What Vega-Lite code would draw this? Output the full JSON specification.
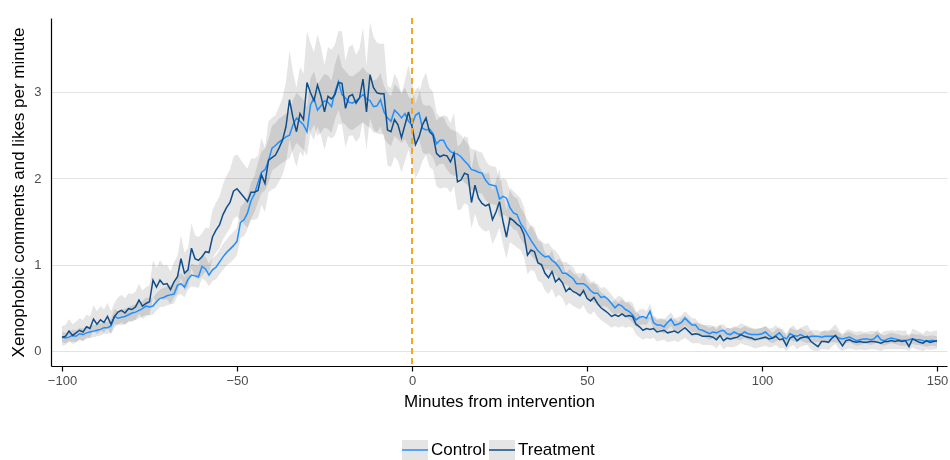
{
  "$schema": "https://vega.github.io/schema/vega-lite/v6.json",
  "width": 896,
  "height": 348,
  "autosize": "none",
  "padding": {"left": 51, "top": 18, "right": 3, "bottom": 94},
  "background": "white",
  "config": {
    "font": "Liberation Sans",
    "view": {"stroke": null},
    "axis": {
      "domainColor": "black",
      "domainWidth": 1.2,
      "tickColor": "black",
      "tickWidth": 1.2,
      "tickSize": 5,
      "labelColor": "#4d4d4d",
      "labelFontSize": 13,
      "titleColor": "black",
      "titleFontSize": 17,
      "titleFontWeight": "normal",
      "gridColor": "#e3e3e3",
      "gridWidth": 1
    },
    "legend": {
      "orient": "none",
      "legendX": 353,
      "legendY": 421,
      "direction": "horizontal",
      "labelFontSize": 17,
      "labelColor": "black",
      "symbolSize": 400,
      "symbolStrokeWidth": 1.5,
      "labelOffset": 5,
      "columnPadding": 0
    }
  },
  "data": {
    "values": [
      {"m":-100,"c":0.16,"cl":0.10,"ch":0.22,"t":0.16,"tl":0.06,"th":0.29},
      {"m":-99,"c":0.15,"cl":0.09,"ch":0.21,"t":0.17,"tl":0.07,"th":0.30},
      {"m":-98,"c":0.16,"cl":0.10,"ch":0.22,"t":0.23,"tl":0.12,"th":0.37},
      {"m":-97,"c":0.18,"cl":0.11,"ch":0.25,"t":0.18,"tl":0.08,"th":0.31},
      {"m":-96,"c":0.17,"cl":0.10,"ch":0.24,"t":0.21,"tl":0.10,"th":0.34},
      {"m":-95,"c":0.20,"cl":0.13,"ch":0.27,"t":0.24,"tl":0.13,"th":0.38},
      {"m":-94,"c":0.19,"cl":0.12,"ch":0.26,"t":0.22,"tl":0.11,"th":0.36},
      {"m":-93,"c":0.21,"cl":0.14,"ch":0.28,"t":0.28,"tl":0.16,"th":0.42},
      {"m":-92,"c":0.22,"cl":0.15,"ch":0.29,"t":0.26,"tl":0.15,"th":0.40},
      {"m":-91,"c":0.23,"cl":0.16,"ch":0.30,"t":0.37,"tl":0.24,"th":0.53},
      {"m":-90,"c":0.24,"cl":0.17,"ch":0.31,"t":0.31,"tl":0.19,"th":0.46},
      {"m":-89,"c":0.25,"cl":0.18,"ch":0.32,"t":0.36,"tl":0.23,"th":0.52},
      {"m":-88,"c":0.27,"cl":0.20,"ch":0.34,"t":0.33,"tl":0.21,"th":0.48},
      {"m":-87,"c":0.27,"cl":0.20,"ch":0.34,"t":0.40,"tl":0.27,"th":0.56},
      {"m":-86,"c":0.29,"cl":0.21,"ch":0.37,"t":0.31,"tl":0.19,"th":0.46},
      {"m":-85,"c":0.40,"cl":0.31,"ch":0.49,"t":0.40,"tl":0.27,"th":0.56},
      {"m":-84,"c":0.38,"cl":0.30,"ch":0.46,"t":0.45,"tl":0.31,"th":0.62},
      {"m":-83,"c":0.39,"cl":0.30,"ch":0.48,"t":0.47,"tl":0.33,"th":0.65},
      {"m":-82,"c":0.40,"cl":0.31,"ch":0.49,"t":0.44,"tl":0.30,"th":0.61},
      {"m":-81,"c":0.42,"cl":0.33,"ch":0.51,"t":0.49,"tl":0.35,"th":0.67},
      {"m":-80,"c":0.44,"cl":0.35,"ch":0.53,"t":0.48,"tl":0.34,"th":0.66},
      {"m":-79,"c":0.45,"cl":0.36,"ch":0.54,"t":0.51,"tl":0.36,"th":0.69},
      {"m":-78,"c":0.47,"cl":0.38,"ch":0.56,"t":0.59,"tl":0.43,"th":0.78},
      {"m":-77,"c":0.49,"cl":0.40,"ch":0.58,"t":0.52,"tl":0.37,"th":0.70},
      {"m":-76,"c":0.52,"cl":0.42,"ch":0.62,"t":0.55,"tl":0.40,"th":0.74},
      {"m":-75,"c":0.51,"cl":0.41,"ch":0.61,"t":0.57,"tl":0.42,"th":0.76},
      {"m":-74,"c":0.52,"cl":0.42,"ch":0.62,"t":0.82,"tl":0.63,"th":1.05},
      {"m":-73,"c":0.57,"cl":0.47,"ch":0.67,"t":0.74,"tl":0.56,"th":0.96},
      {"m":-72,"c":0.61,"cl":0.51,"ch":0.71,"t":0.82,"tl":0.63,"th":1.05},
      {"m":-71,"c":0.62,"cl":0.51,"ch":0.73,"t":0.77,"tl":0.59,"th":0.99},
      {"m":-70,"c":0.64,"cl":0.53,"ch":0.75,"t":0.78,"tl":0.60,"th":1.00},
      {"m":-69,"c":0.65,"cl":0.54,"ch":0.76,"t":0.71,"tl":0.54,"th":0.92},
      {"m":-68,"c":0.66,"cl":0.55,"ch":0.77,"t":0.80,"tl":0.62,"th":1.03},
      {"m":-67,"c":0.76,"cl":0.64,"ch":0.88,"t":0.86,"tl":0.67,"th":1.10},
      {"m":-66,"c":0.78,"cl":0.66,"ch":0.90,"t":1.07,"tl":0.85,"th":1.34},
      {"m":-65,"c":0.74,"cl":0.62,"ch":0.86,"t":0.90,"tl":0.70,"th":1.14},
      {"m":-64,"c":0.83,"cl":0.71,"ch":0.95,"t":0.94,"tl":0.74,"th":1.19},
      {"m":-63,"c":0.88,"cl":0.75,"ch":1.01,"t":1.19,"tl":0.96,"th":1.48},
      {"m":-62,"c":0.87,"cl":0.74,"ch":1.00,"t":1.07,"tl":0.85,"th":1.34},
      {"m":-61,"c":0.86,"cl":0.73,"ch":0.99,"t":1.05,"tl":0.83,"th":1.32},
      {"m":-60,"c":0.98,"cl":0.84,"ch":1.12,"t":1.09,"tl":0.87,"th":1.36},
      {"m":-59,"c":0.95,"cl":0.81,"ch":1.09,"t":1.15,"tl":0.92,"th":1.43},
      {"m":-58,"c":0.88,"cl":0.75,"ch":1.01,"t":1.14,"tl":0.91,"th":1.42},
      {"m":-57,"c":0.94,"cl":0.81,"ch":1.07,"t":1.32,"tl":1.07,"th":1.63},
      {"m":-56,"c":0.97,"cl":0.83,"ch":1.11,"t":1.40,"tl":1.14,"th":1.72},
      {"m":-55,"c":1.03,"cl":0.89,"ch":1.17,"t":1.46,"tl":1.19,"th":1.79},
      {"m":-54,"c":1.09,"cl":0.94,"ch":1.24,"t":1.58,"tl":1.29,"th":1.93},
      {"m":-53,"c":1.14,"cl":0.99,"ch":1.29,"t":1.66,"tl":1.36,"th":2.03},
      {"m":-52,"c":1.18,"cl":1.02,"ch":1.34,"t":1.72,"tl":1.42,"th":2.10},
      {"m":-51,"c":1.22,"cl":1.06,"ch":1.38,"t":1.85,"tl":1.53,"th":2.25},
      {"m":-50,"c":1.27,"cl":1.11,"ch":1.43,"t":1.88,"tl":1.56,"th":2.28},
      {"m":-49,"c":1.49,"cl":1.31,"ch":1.67,"t":1.83,"tl":1.51,"th":2.22},
      {"m":-48,"c":1.52,"cl":1.33,"ch":1.71,"t":1.78,"tl":1.47,"th":2.16},
      {"m":-47,"c":1.60,"cl":1.41,"ch":1.79,"t":1.73,"tl":1.43,"th":2.11},
      {"m":-46,"c":1.74,"cl":1.53,"ch":1.95,"t":1.84,"tl":1.52,"th":2.23},
      {"m":-45,"c":1.82,"cl":1.61,"ch":2.03,"t":1.84,"tl":1.52,"th":2.23},
      {"m":-44,"c":1.95,"cl":1.72,"ch":2.18,"t":1.86,"tl":1.54,"th":2.26},
      {"m":-43,"c":2.07,"cl":1.83,"ch":2.31,"t":2.04,"tl":1.69,"th":2.47},
      {"m":-42,"c":2.10,"cl":1.86,"ch":2.34,"t":1.94,"tl":1.61,"th":2.35},
      {"m":-41,"c":2.20,"cl":1.95,"ch":2.45,"t":2.21,"tl":1.84,"th":2.66},
      {"m":-40,"c":2.35,"cl":2.09,"ch":2.61,"t":2.24,"tl":1.87,"th":2.70},
      {"m":-39,"c":2.38,"cl":2.12,"ch":2.64,"t":2.27,"tl":1.89,"th":2.73},
      {"m":-38,"c":2.42,"cl":2.15,"ch":2.69,"t":2.35,"tl":1.96,"th":2.83},
      {"m":-37,"c":2.45,"cl":2.18,"ch":2.72,"t":2.44,"tl":2.04,"th":2.93},
      {"m":-36,"c":2.48,"cl":2.21,"ch":2.75,"t":2.60,"tl":2.18,"th":3.12},
      {"m":-35,"c":2.50,"cl":2.23,"ch":2.78,"t":2.91,"tl":2.45,"th":3.48},
      {"m":-34,"c":2.62,"cl":2.33,"ch":2.91,"t":2.70,"tl":2.27,"th":3.23},
      {"m":-33,"c":2.70,"cl":2.41,"ch":2.99,"t":2.54,"tl":2.13,"th":3.05},
      {"m":-32,"c":2.66,"cl":2.37,"ch":2.95,"t":2.75,"tl":2.31,"th":3.29},
      {"m":-31,"c":2.62,"cl":2.33,"ch":2.91,"t":2.68,"tl":2.25,"th":3.21},
      {"m":-30,"c":2.54,"cl":2.26,"ch":2.82,"t":3.11,"tl":2.63,"th":3.71},
      {"m":-29,"c":2.85,"cl":2.54,"ch":3.16,"t":2.99,"tl":2.52,"th":3.57},
      {"m":-28,"c":2.93,"cl":2.62,"ch":3.24,"t":2.90,"tl":2.44,"th":3.46},
      {"m":-27,"c":2.79,"cl":2.49,"ch":3.09,"t":3.08,"tl":2.60,"th":3.67},
      {"m":-26,"c":2.84,"cl":2.53,"ch":3.15,"t":2.95,"tl":2.49,"th":3.52},
      {"m":-25,"c":2.90,"cl":2.59,"ch":3.21,"t":2.77,"tl":2.33,"th":3.31},
      {"m":-24,"c":2.88,"cl":2.57,"ch":3.19,"t":2.95,"tl":2.49,"th":3.52},
      {"m":-23,"c":2.83,"cl":2.53,"ch":3.13,"t":2.92,"tl":2.46,"th":3.49},
      {"m":-22,"c":3.00,"cl":2.68,"ch":3.32,"t":2.97,"tl":2.50,"th":3.55},
      {"m":-21,"c":3.12,"cl":2.79,"ch":3.45,"t":3.11,"tl":2.63,"th":3.71},
      {"m":-20,"c":2.97,"cl":2.65,"ch":3.29,"t":3.10,"tl":2.62,"th":3.70},
      {"m":-19,"c":2.93,"cl":2.62,"ch":3.24,"t":2.81,"tl":2.36,"th":3.36},
      {"m":-18,"c":2.88,"cl":2.57,"ch":3.19,"t":2.95,"tl":2.49,"th":3.52},
      {"m":-17,"c":2.87,"cl":2.56,"ch":3.18,"t":2.97,"tl":2.50,"th":3.55},
      {"m":-16,"c":2.90,"cl":2.59,"ch":3.21,"t":2.87,"tl":2.42,"th":3.43},
      {"m":-15,"c":2.93,"cl":2.62,"ch":3.24,"t":2.93,"tl":2.47,"th":3.50},
      {"m":-14,"c":2.97,"cl":2.65,"ch":3.29,"t":3.15,"tl":2.66,"th":3.75},
      {"m":-13,"c":2.92,"cl":2.61,"ch":3.23,"t":2.77,"tl":2.33,"th":3.31},
      {"m":-12,"c":2.90,"cl":2.59,"ch":3.21,"t":3.20,"tl":2.70,"th":3.81},
      {"m":-11,"c":2.83,"cl":2.53,"ch":3.13,"t":3.05,"tl":2.57,"th":3.64},
      {"m":-10,"c":2.84,"cl":2.53,"ch":3.15,"t":2.99,"tl":2.52,"th":3.57},
      {"m":-9,"c":2.91,"cl":2.60,"ch":3.22,"t":2.98,"tl":2.51,"th":3.56},
      {"m":-8,"c":2.77,"cl":2.47,"ch":3.07,"t":2.98,"tl":2.51,"th":3.56},
      {"m":-7,"c":2.70,"cl":2.41,"ch":2.99,"t":2.56,"tl":2.15,"th":3.07},
      {"m":-6,"c":2.66,"cl":2.37,"ch":2.95,"t":2.54,"tl":2.13,"th":3.05},
      {"m":-5,"c":2.79,"cl":2.49,"ch":3.09,"t":2.68,"tl":2.25,"th":3.21},
      {"m":-4,"c":2.75,"cl":2.45,"ch":3.05,"t":2.62,"tl":2.20,"th":3.14},
      {"m":-3,"c":2.70,"cl":2.41,"ch":2.99,"t":2.47,"tl":2.07,"th":2.97},
      {"m":-2,"c":2.75,"cl":2.45,"ch":3.05,"t":2.62,"tl":2.20,"th":3.14},
      {"m":-1,"c":2.66,"cl":2.37,"ch":2.95,"t":2.77,"tl":2.33,"th":3.31},
      {"m":0,"c":2.62,"cl":2.33,"ch":2.91,"t":2.60,"tl":2.18,"th":3.12},
      {"m":1,"c":2.73,"cl":2.43,"ch":3.03,"t":2.39,"tl":2.00,"th":2.87},
      {"m":2,"c":2.76,"cl":2.46,"ch":3.06,"t":2.48,"tl":2.08,"th":2.98},
      {"m":3,"c":2.58,"cl":2.30,"ch":2.86,"t":2.62,"tl":2.20,"th":3.14},
      {"m":4,"c":2.56,"cl":2.28,"ch":2.84,"t":2.70,"tl":2.27,"th":3.23},
      {"m":5,"c":2.57,"cl":2.29,"ch":2.85,"t":2.54,"tl":2.13,"th":3.05},
      {"m":6,"c":2.52,"cl":2.24,"ch":2.80,"t":2.50,"tl":2.10,"th":3.00},
      {"m":7,"c":2.40,"cl":2.13,"ch":2.67,"t":2.29,"tl":1.91,"th":2.76},
      {"m":8,"c":2.44,"cl":2.17,"ch":2.71,"t":2.25,"tl":1.88,"th":2.71},
      {"m":9,"c":2.44,"cl":2.17,"ch":2.71,"t":2.27,"tl":1.89,"th":2.73},
      {"m":10,"c":2.36,"cl":2.10,"ch":2.62,"t":2.26,"tl":1.89,"th":2.72},
      {"m":11,"c":2.31,"cl":2.05,"ch":2.57,"t":2.19,"tl":1.83,"th":2.64},
      {"m":12,"c":2.29,"cl":2.03,"ch":2.55,"t":2.29,"tl":1.91,"th":2.76},
      {"m":13,"c":2.28,"cl":2.02,"ch":2.54,"t":1.96,"tl":1.63,"th":2.37},
      {"m":14,"c":2.25,"cl":2.00,"ch":2.50,"t":1.98,"tl":1.64,"th":2.40},
      {"m":15,"c":2.20,"cl":1.95,"ch":2.45,"t":2.06,"tl":1.71,"th":2.49},
      {"m":16,"c":2.16,"cl":1.92,"ch":2.40,"t":2.04,"tl":1.69,"th":2.47},
      {"m":17,"c":2.10,"cl":1.86,"ch":2.34,"t":1.72,"tl":1.42,"th":2.10},
      {"m":18,"c":2.09,"cl":1.85,"ch":2.33,"t":1.92,"tl":1.59,"th":2.33},
      {"m":19,"c":2.07,"cl":1.83,"ch":2.31,"t":1.77,"tl":1.46,"th":2.15},
      {"m":20,"c":2.06,"cl":1.82,"ch":2.30,"t":1.71,"tl":1.41,"th":2.08},
      {"m":21,"c":1.98,"cl":1.75,"ch":2.21,"t":1.68,"tl":1.38,"th":2.05},
      {"m":22,"c":1.93,"cl":1.71,"ch":2.15,"t":1.70,"tl":1.40,"th":2.07},
      {"m":23,"c":1.92,"cl":1.70,"ch":2.14,"t":1.52,"tl":1.24,"th":1.86},
      {"m":24,"c":1.91,"cl":1.69,"ch":2.13,"t":1.61,"tl":1.32,"th":1.97},
      {"m":25,"c":1.76,"cl":1.55,"ch":1.97,"t":1.73,"tl":1.43,"th":2.11},
      {"m":26,"c":1.79,"cl":1.58,"ch":2.00,"t":1.50,"tl":1.23,"th":1.84},
      {"m":27,"c":1.77,"cl":1.56,"ch":1.98,"t":1.32,"tl":1.07,"th":1.63},
      {"m":28,"c":1.66,"cl":1.46,"ch":1.86,"t":1.54,"tl":1.26,"th":1.89},
      {"m":29,"c":1.60,"cl":1.41,"ch":1.79,"t":1.51,"tl":1.23,"th":1.85},
      {"m":30,"c":1.58,"cl":1.39,"ch":1.77,"t":1.47,"tl":1.20,"th":1.81},
      {"m":31,"c":1.48,"cl":1.30,"ch":1.66,"t":1.44,"tl":1.17,"th":1.77},
      {"m":32,"c":1.42,"cl":1.24,"ch":1.60,"t":1.35,"tl":1.09,"th":1.67},
      {"m":33,"c":1.35,"cl":1.18,"ch":1.52,"t":1.11,"tl":0.89,"th":1.39},
      {"m":34,"c":1.28,"cl":1.11,"ch":1.45,"t":1.17,"tl":0.94,"th":1.46},
      {"m":35,"c":1.22,"cl":1.06,"ch":1.38,"t":1.15,"tl":0.92,"th":1.43},
      {"m":36,"c":1.16,"cl":1.01,"ch":1.31,"t":1.02,"tl":0.81,"th":1.28},
      {"m":37,"c":1.12,"cl":0.97,"ch":1.27,"t":1.00,"tl":0.79,"th":1.26},
      {"m":38,"c":1.09,"cl":0.94,"ch":1.24,"t":0.90,"tl":0.70,"th":1.14},
      {"m":39,"c":1.10,"cl":0.95,"ch":1.25,"t":0.85,"tl":0.66,"th":1.09},
      {"m":40,"c":1.05,"cl":0.91,"ch":1.19,"t":0.92,"tl":0.72,"th":1.17},
      {"m":41,"c":1.02,"cl":0.88,"ch":1.16,"t":0.80,"tl":0.62,"th":1.03},
      {"m":42,"c":0.97,"cl":0.83,"ch":1.11,"t":0.84,"tl":0.65,"th":1.07},
      {"m":43,"c":0.90,"cl":0.77,"ch":1.03,"t":0.79,"tl":0.61,"th":1.02},
      {"m":44,"c":0.90,"cl":0.77,"ch":1.03,"t":0.69,"tl":0.52,"th":0.90},
      {"m":45,"c":0.87,"cl":0.74,"ch":1.00,"t":0.73,"tl":0.56,"th":0.95},
      {"m":46,"c":0.84,"cl":0.71,"ch":0.97,"t":0.69,"tl":0.52,"th":0.90},
      {"m":47,"c":0.78,"cl":0.66,"ch":0.90,"t":0.67,"tl":0.50,"th":0.88},
      {"m":48,"c":0.78,"cl":0.66,"ch":0.90,"t":0.64,"tl":0.48,"th":0.84},
      {"m":49,"c":0.78,"cl":0.66,"ch":0.90,"t":0.70,"tl":0.53,"th":0.91},
      {"m":50,"c":0.75,"cl":0.63,"ch":0.87,"t":0.61,"tl":0.45,"th":0.81},
      {"m":51,"c":0.70,"cl":0.59,"ch":0.81,"t":0.58,"tl":0.42,"th":0.77},
      {"m":52,"c":0.67,"cl":0.56,"ch":0.78,"t":0.62,"tl":0.46,"th":0.82},
      {"m":53,"c":0.67,"cl":0.56,"ch":0.78,"t":0.55,"tl":0.40,"th":0.74},
      {"m":54,"c":0.62,"cl":0.51,"ch":0.73,"t":0.50,"tl":0.36,"th":0.68},
      {"m":55,"c":0.63,"cl":0.52,"ch":0.74,"t":0.47,"tl":0.33,"th":0.65},
      {"m":56,"c":0.60,"cl":0.50,"ch":0.70,"t":0.44,"tl":0.30,"th":0.61},
      {"m":57,"c":0.55,"cl":0.45,"ch":0.65,"t":0.40,"tl":0.27,"th":0.56},
      {"m":58,"c":0.50,"cl":0.41,"ch":0.60,"t":0.42,"tl":0.29,"th":0.59},
      {"m":59,"c":0.54,"cl":0.44,"ch":0.64,"t":0.40,"tl":0.27,"th":0.56},
      {"m":60,"c":0.52,"cl":0.42,"ch":0.62,"t":0.43,"tl":0.29,"th":0.60},
      {"m":61,"c":0.48,"cl":0.39,"ch":0.57,"t":0.40,"tl":0.27,"th":0.56},
      {"m":62,"c":0.46,"cl":0.37,"ch":0.55,"t":0.41,"tl":0.28,"th":0.58},
      {"m":63,"c":0.42,"cl":0.33,"ch":0.51,"t":0.40,"tl":0.27,"th":0.56},
      {"m":64,"c":0.36,"cl":0.28,"ch":0.44,"t":0.31,"tl":0.19,"th":0.46},
      {"m":65,"c":0.39,"cl":0.30,"ch":0.48,"t":0.28,"tl":0.16,"th":0.42},
      {"m":66,"c":0.40,"cl":0.31,"ch":0.49,"t":0.24,"tl":0.13,"th":0.38},
      {"m":67,"c":0.38,"cl":0.30,"ch":0.46,"t":0.26,"tl":0.15,"th":0.40},
      {"m":68,"c":0.46,"cl":0.37,"ch":0.55,"t":0.25,"tl":0.14,"th":0.39},
      {"m":69,"c":0.33,"cl":0.25,"ch":0.41,"t":0.26,"tl":0.15,"th":0.40},
      {"m":70,"c":0.30,"cl":0.22,"ch":0.38,"t":0.22,"tl":0.11,"th":0.36},
      {"m":71,"c":0.30,"cl":0.22,"ch":0.38,"t":0.23,"tl":0.12,"th":0.37},
      {"m":72,"c":0.28,"cl":0.20,"ch":0.36,"t":0.24,"tl":0.13,"th":0.38},
      {"m":73,"c":0.33,"cl":0.25,"ch":0.41,"t":0.21,"tl":0.10,"th":0.34},
      {"m":74,"c":0.37,"cl":0.29,"ch":0.45,"t":0.22,"tl":0.11,"th":0.36},
      {"m":75,"c":0.30,"cl":0.22,"ch":0.38,"t":0.23,"tl":0.12,"th":0.37},
      {"m":76,"c":0.31,"cl":0.23,"ch":0.39,"t":0.21,"tl":0.10,"th":0.34},
      {"m":77,"c":0.33,"cl":0.25,"ch":0.41,"t":0.24,"tl":0.13,"th":0.38},
      {"m":78,"c":0.38,"cl":0.30,"ch":0.46,"t":0.27,"tl":0.15,"th":0.41},
      {"m":79,"c":0.34,"cl":0.26,"ch":0.42,"t":0.23,"tl":0.12,"th":0.37},
      {"m":80,"c":0.30,"cl":0.22,"ch":0.38,"t":0.19,"tl":0.09,"th":0.32},
      {"m":81,"c":0.30,"cl":0.22,"ch":0.38,"t":0.20,"tl":0.09,"th":0.33},
      {"m":82,"c":0.25,"cl":0.18,"ch":0.32,"t":0.19,"tl":0.09,"th":0.32},
      {"m":83,"c":0.24,"cl":0.17,"ch":0.31,"t":0.17,"tl":0.07,"th":0.30},
      {"m":84,"c":0.22,"cl":0.15,"ch":0.29,"t":0.17,"tl":0.07,"th":0.30},
      {"m":85,"c":0.20,"cl":0.13,"ch":0.27,"t":0.17,"tl":0.07,"th":0.30},
      {"m":86,"c":0.22,"cl":0.15,"ch":0.29,"t":0.16,"tl":0.06,"th":0.29},
      {"m":87,"c":0.21,"cl":0.14,"ch":0.28,"t":0.13,"tl":0.03,"th":0.25},
      {"m":88,"c":0.23,"cl":0.16,"ch":0.30,"t":0.18,"tl":0.08,"th":0.31},
      {"m":89,"c":0.24,"cl":0.17,"ch":0.31,"t":0.12,"tl":0.02,"th":0.24},
      {"m":90,"c":0.20,"cl":0.13,"ch":0.27,"t":0.15,"tl":0.05,"th":0.27},
      {"m":91,"c":0.19,"cl":0.12,"ch":0.26,"t":0.14,"tl":0.04,"th":0.26},
      {"m":92,"c":0.22,"cl":0.15,"ch":0.29,"t":0.15,"tl":0.05,"th":0.27},
      {"m":93,"c":0.20,"cl":0.13,"ch":0.27,"t":0.16,"tl":0.06,"th":0.29},
      {"m":94,"c":0.19,"cl":0.12,"ch":0.26,"t":0.19,"tl":0.09,"th":0.32},
      {"m":95,"c":0.22,"cl":0.15,"ch":0.29,"t":0.17,"tl":0.07,"th":0.30},
      {"m":96,"c":0.20,"cl":0.13,"ch":0.27,"t":0.16,"tl":0.06,"th":0.29},
      {"m":97,"c":0.19,"cl":0.12,"ch":0.26,"t":0.15,"tl":0.05,"th":0.27},
      {"m":98,"c":0.19,"cl":0.12,"ch":0.26,"t":0.13,"tl":0.03,"th":0.25},
      {"m":99,"c":0.19,"cl":0.12,"ch":0.26,"t":0.14,"tl":0.04,"th":0.26},
      {"m":100,"c":0.20,"cl":0.13,"ch":0.27,"t":0.15,"tl":0.05,"th":0.27},
      {"m":101,"c":0.22,"cl":0.15,"ch":0.29,"t":0.16,"tl":0.06,"th":0.29},
      {"m":102,"c":0.18,"cl":0.11,"ch":0.25,"t":0.14,"tl":0.04,"th":0.26},
      {"m":103,"c":0.15,"cl":0.09,"ch":0.21,"t":0.15,"tl":0.05,"th":0.27},
      {"m":104,"c":0.18,"cl":0.11,"ch":0.25,"t":0.17,"tl":0.07,"th":0.30},
      {"m":105,"c":0.21,"cl":0.14,"ch":0.28,"t":0.13,"tl":0.03,"th":0.25},
      {"m":106,"c":0.16,"cl":0.10,"ch":0.22,"t":0.14,"tl":0.04,"th":0.26},
      {"m":107,"c":0.14,"cl":0.08,"ch":0.20,"t":0.06,"tl":0.00,"th":0.17},
      {"m":108,"c":0.20,"cl":0.13,"ch":0.27,"t":0.15,"tl":0.05,"th":0.27},
      {"m":109,"c":0.18,"cl":0.11,"ch":0.25,"t":0.17,"tl":0.07,"th":0.30},
      {"m":110,"c":0.17,"cl":0.10,"ch":0.24,"t":0.12,"tl":0.02,"th":0.24},
      {"m":111,"c":0.19,"cl":0.12,"ch":0.26,"t":0.15,"tl":0.05,"th":0.27},
      {"m":112,"c":0.17,"cl":0.10,"ch":0.24,"t":0.16,"tl":0.06,"th":0.29},
      {"m":113,"c":0.15,"cl":0.09,"ch":0.21,"t":0.17,"tl":0.07,"th":0.30},
      {"m":114,"c":0.17,"cl":0.10,"ch":0.24,"t":0.11,"tl":0.02,"th":0.23},
      {"m":115,"c":0.17,"cl":0.10,"ch":0.24,"t":0.08,"tl":0.00,"th":0.19},
      {"m":116,"c":0.17,"cl":0.10,"ch":0.24,"t":0.05,"tl":0.00,"th":0.16},
      {"m":117,"c":0.16,"cl":0.10,"ch":0.22,"t":0.11,"tl":0.02,"th":0.23},
      {"m":118,"c":0.17,"cl":0.10,"ch":0.24,"t":0.11,"tl":0.02,"th":0.23},
      {"m":119,"c":0.17,"cl":0.10,"ch":0.24,"t":0.10,"tl":0.01,"th":0.22},
      {"m":120,"c":0.17,"cl":0.10,"ch":0.24,"t":0.15,"tl":0.05,"th":0.27},
      {"m":121,"c":0.17,"cl":0.10,"ch":0.24,"t":0.18,"tl":0.08,"th":0.31},
      {"m":122,"c":0.15,"cl":0.09,"ch":0.21,"t":0.12,"tl":0.02,"th":0.24},
      {"m":123,"c":0.14,"cl":0.08,"ch":0.20,"t":0.06,"tl":0.00,"th":0.17},
      {"m":124,"c":0.15,"cl":0.09,"ch":0.21,"t":0.12,"tl":0.02,"th":0.24},
      {"m":125,"c":0.16,"cl":0.10,"ch":0.22,"t":0.13,"tl":0.03,"th":0.25},
      {"m":126,"c":0.14,"cl":0.08,"ch":0.20,"t":0.11,"tl":0.02,"th":0.23},
      {"m":127,"c":0.12,"cl":0.06,"ch":0.18,"t":0.10,"tl":0.01,"th":0.22},
      {"m":128,"c":0.13,"cl":0.07,"ch":0.19,"t":0.11,"tl":0.02,"th":0.23},
      {"m":129,"c":0.14,"cl":0.08,"ch":0.20,"t":0.10,"tl":0.01,"th":0.22},
      {"m":130,"c":0.14,"cl":0.08,"ch":0.20,"t":0.10,"tl":0.01,"th":0.22},
      {"m":131,"c":0.13,"cl":0.07,"ch":0.19,"t":0.11,"tl":0.02,"th":0.23},
      {"m":132,"c":0.14,"cl":0.08,"ch":0.20,"t":0.11,"tl":0.02,"th":0.23},
      {"m":133,"c":0.18,"cl":0.11,"ch":0.25,"t":0.10,"tl":0.01,"th":0.22},
      {"m":134,"c":0.13,"cl":0.07,"ch":0.19,"t":0.09,"tl":0.00,"th":0.20},
      {"m":135,"c":0.12,"cl":0.06,"ch":0.18,"t":0.11,"tl":0.02,"th":0.23},
      {"m":136,"c":0.14,"cl":0.08,"ch":0.20,"t":0.11,"tl":0.02,"th":0.23},
      {"m":137,"c":0.15,"cl":0.09,"ch":0.21,"t":0.12,"tl":0.02,"th":0.24},
      {"m":138,"c":0.14,"cl":0.08,"ch":0.20,"t":0.11,"tl":0.02,"th":0.23},
      {"m":139,"c":0.13,"cl":0.07,"ch":0.19,"t":0.12,"tl":0.02,"th":0.24},
      {"m":140,"c":0.12,"cl":0.06,"ch":0.18,"t":0.11,"tl":0.02,"th":0.23},
      {"m":141,"c":0.12,"cl":0.06,"ch":0.18,"t":0.12,"tl":0.02,"th":0.24},
      {"m":142,"c":0.13,"cl":0.07,"ch":0.19,"t":0.05,"tl":0.00,"th":0.16},
      {"m":143,"c":0.14,"cl":0.08,"ch":0.20,"t":0.14,"tl":0.04,"th":0.26},
      {"m":144,"c":0.13,"cl":0.07,"ch":0.19,"t":0.12,"tl":0.02,"th":0.24},
      {"m":145,"c":0.13,"cl":0.07,"ch":0.19,"t":0.10,"tl":0.01,"th":0.22},
      {"m":146,"c":0.12,"cl":0.06,"ch":0.18,"t":0.09,"tl":0.00,"th":0.20},
      {"m":147,"c":0.11,"cl":0.05,"ch":0.17,"t":0.12,"tl":0.02,"th":0.24},
      {"m":148,"c":0.12,"cl":0.06,"ch":0.18,"t":0.10,"tl":0.01,"th":0.22},
      {"m":149,"c":0.12,"cl":0.06,"ch":0.18,"t":0.11,"tl":0.02,"th":0.23},
      {"m":150,"c":0.11,"cl":0.05,"ch":0.17,"t":0.12,"tl":0.02,"th":0.24}
    ]
  },
  "layer": [
    {
      "mark": {"type": "area", "blend": "multiply"},
      "encoding": {
        "x": {
          "field": "m",
          "type": "quantitative",
          "scale": {"domain": [-103.14, 152.86], "nice": false, "zero": false},
          "axis": {
            "title": "Minutes from intervention",
            "values": [-100, -50, 0, 50, 100, 150],
            "grid": false,
            "labelPadding": 3,
            "titlePadding": 6
          }
        },
        "y": {
          "field": "cl",
          "type": "quantitative",
          "scale": {"domain": [-0.174, 3.857], "nice": false, "zero": false},
          "axis": {
            "title": "Xenophobic comments and likes per minute",
            "values": [0, 1, 2, 3],
            "format": "d",
            "grid": true,
            "ticks": false,
            "labelPadding": 10,
            "titlePadding": 6
          }
        },
        "y2": {"field": "ch"},
        "fill": {
          "datum": "Control",
          "scale": {"domain": ["Control", "Treatment"], "range": ["#e5e5e5", "#e5e5e5"]},
          "legend": {
            "title": null,
            "symbolType": "M-1.3,0H1.3V-1H-1.3V1H1.3V0Z",
            "symbolDash": [26, 300]
          }
        }
      }
    },
    {
      "mark": {"type": "area", "blend": "multiply"},
      "encoding": {
        "x": {"field": "m", "type": "quantitative"},
        "y": {"field": "tl", "type": "quantitative"},
        "y2": {"field": "th"},
        "fill": {"datum": "Treatment"}
      }
    },
    {
      "mark": {"type": "line", "strokeWidth": 1.5},
      "encoding": {
        "x": {"field": "m", "type": "quantitative"},
        "y": {"field": "c", "type": "quantitative"},
        "stroke": {
          "datum": "Control",
          "scale": {"domain": ["Control", "Treatment"], "range": ["#1E90FF", "#104E8B"]},
          "legend": {
            "title": null,
            "symbolType": "M-1.3,0H1.3V-1H-1.3V1H1.3V0Z",
            "symbolDash": [26, 300]
          }
        }
      }
    },
    {
      "mark": {"type": "line", "strokeWidth": 1.5},
      "encoding": {
        "x": {"field": "m", "type": "quantitative"},
        "y": {"field": "t", "type": "quantitative"},
        "stroke": {"datum": "Treatment"}
      }
    },
    {
      "mark": {"type": "rule", "color": "#F5A623", "strokeWidth": 1.5, "strokeDash": [6, 4]},
      "encoding": {"x": {"datum": 0}}
    }
  ]
}
